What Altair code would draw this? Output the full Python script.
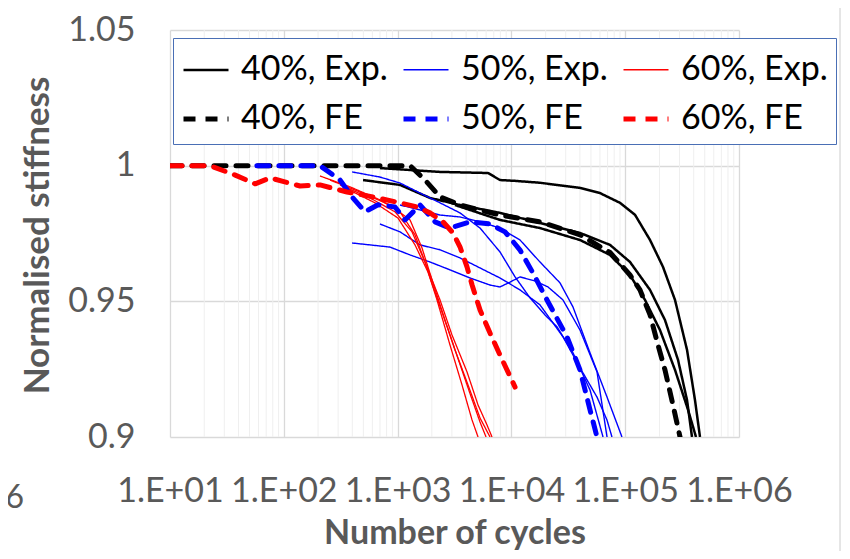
import altair as alt
import pandas as pd

# ---------------- data ----------------
series_names = ["40%, Exp.", "50%, Exp.", "60%, Exp.", "40%, FE", "50%, FE", "60%, FE"]
series_colors = ["#000000", "#0000ff", "#ff0000", "#000000", "#0000ff", "#ff0000"]
series_widths = [2.5, 1.4, 1.3, 5.0, 5.0, 5.0]

# 40% experiments (three specimens)
exp40_a_cycles = [700, 2359, 6230, 7943, 10770, 17830, 40090, 60070, 89950, 121900, 165300, 214800, 274000, 349400, 410500, 454200]
exp40_a_stiff = [0.9991, 0.9977, 0.9973, 0.9947, 0.9944, 0.9937, 0.9918, 0.9899, 0.9863, 0.9819, 0.9726, 0.9627, 0.9505, 0.9321, 0.9136, 0.9]
exp40_b_cycles = [497, 1050, 1926, 3533, 7943, 17830, 40090, 73540, 110200, 165300, 223700, 291200, 349400, 386300]
exp40_b_stiff = [0.9947, 0.9929, 0.9881, 0.9855, 0.9826, 0.9789, 0.9752, 0.9708, 0.9645, 0.9542, 0.9431, 0.9284, 0.9136, 0.9]
exp40_c_cycles = [3194, 7943, 17830, 40090, 73540, 110200, 149300, 202200, 274000, 356700, 418900]
exp40_c_stiff = [0.9855, 0.9800, 0.9770, 0.9726, 0.9671, 0.9597, 0.9505, 0.9394, 0.9247, 0.9100, 0.9]

# 50% experiments
exp50_a_cycles = [398, 700, 1050, 1574, 2359, 3533, 5302, 7943, 10770, 14570, 19720, 25170, 34790, 49090, 63840]
exp50_a_stiff = [0.9977, 0.9958, 0.9936, 0.9899, 0.9863, 0.9826, 0.9770, 0.9682, 0.9590, 0.9513, 0.9450, 0.9406, 0.9310, 0.9173, 0.9]
exp50_b_cycles = [398, 572, 857, 1286, 1926, 2887, 4329, 6488, 7943, 9730, 11910, 16110, 20970, 28410, 40090, 56520, 69240]
exp50_b_stiff = [0.9715, 0.9708, 0.9700, 0.9671, 0.9645, 0.9616, 0.9586, 0.9560, 0.9553, 0.9571, 0.9590, 0.9575, 0.9553, 0.9505, 0.9394, 0.9240, 0.9]
exp50_c_cycles = [1050, 1574, 2359, 3533, 5302, 7943, 11910, 17830, 26740, 34790, 49090, 69240, 93690]
exp50_c_stiff = [0.9855, 0.9837, 0.9818, 0.9811, 0.9793, 0.9770, 0.9726, 0.9645, 0.9568, 0.9479, 0.9310, 0.9147, 0.9]
exp50_d_cycles = [700, 1050, 1574, 2359, 3533, 5302, 7943, 11910, 17830, 28410, 40090, 56520, 69240, 76530]
exp50_d_stiff = [0.9785, 0.9756, 0.9708, 0.9690, 0.9660, 0.9623, 0.9586, 0.9542, 0.9487, 0.9369, 0.9255, 0.9147, 0.9062, 0.9]

# 60% experiments
exp60_a_cycles = [208, 382, 700, 1050, 1422, 1741, 2220, 2887, 3681, 4508, 5091]
exp60_a_stiff = [0.9962, 0.9922, 0.9874, 0.9830, 0.9745, 0.9645, 0.9505, 0.9339, 0.9192, 0.9063, 0.9]
exp60_b_cycles = [255, 467, 857, 1286, 1638, 2046, 2610, 3326, 4329, 5302, 5986]
exp60_b_stiff = [0.9947, 0.9903, 0.9855, 0.9800, 0.9697, 0.9568, 0.9431, 0.9300, 0.9160, 0.9055, 0.9]
exp60_c_cycles = [312, 572, 948, 1339, 1741, 2359, 3007, 4073, 5091, 6110, 6757]
exp60_c_stiff = [0.9929, 0.9881, 0.9830, 0.9756, 0.9645, 0.9505, 0.9376, 0.9240, 0.9118, 0.9044, 0.9]
exp60_d_cycles = [345, 633, 1008, 1422, 1849, 2506, 3194, 4157, 5302, 6488]
exp60_d_stiff = [0.9918, 0.9863, 0.9807, 0.9708, 0.9608, 0.9450, 0.9321, 0.9192, 0.9070, 0.9]

# FE predictions
fe40_cycles = [10, 1290, 1741, 2359, 3533, 7943, 17830, 40090, 73540, 110200, 134900, 165300, 194200, 223700, 263000, 303300]
fe40_stiff = [1.0, 1.0, 0.9947, 0.9885, 0.9855, 0.9818, 0.9793, 0.9745, 0.9680, 0.9597, 0.9542, 0.9450, 0.9339, 0.9247, 0.9118, 0.9]
fe50_cycles = [58, 208, 312, 398, 517, 673, 948, 1161, 1574, 2132, 2887, 4329, 6488, 8790, 11910, 15490, 20550, 30810, 40090, 49090, 56520]
fe50_stiff = [1.0, 1.0, 0.9947, 0.9885, 0.9830, 0.9856, 0.9848, 0.9800, 0.9855, 0.9793, 0.9770, 0.9793, 0.9785, 0.9756, 0.9689, 0.9604, 0.9505, 0.9369, 0.9247, 0.9100, 0.9]
fe60_cycles = [10, 22.5, 37, 56, 76, 102, 139, 208, 359, 608, 1050, 1481, 1926, 2506, 3069, 3533, 4073, 4508, 5302, 6488, 7943, 10770]
fe60_stiff = [1.0, 1.0, 0.9966, 0.9933, 0.9955, 0.9940, 0.9925, 0.9929, 0.9903, 0.9885, 0.9863, 0.9848, 0.9826, 0.9793, 0.9752, 0.9701, 0.9627, 0.9561, 0.9468, 0.9383, 0.9302, 0.9184]

x_major_ticks = [10, 100, 1000, 10000, 100000, 1000000]
x_minor_ticks = [m * 10 ** e for e in range(1, 6) for m in range(2, 10)]
y_ticks = [0.9, 0.95, 1.0, 1.05]

# ---------------- table ----------------
lines = [
    ("40%, Exp.", "e40a", exp40_a_cycles, exp40_a_stiff),
    ("40%, Exp.", "e40b", exp40_b_cycles, exp40_b_stiff),
    ("40%, Exp.", "e40c", exp40_c_cycles, exp40_c_stiff),
    ("50%, Exp.", "e50a", exp50_a_cycles, exp50_a_stiff),
    ("50%, Exp.", "e50b", exp50_b_cycles, exp50_b_stiff),
    ("50%, Exp.", "e50c", exp50_c_cycles, exp50_c_stiff),
    ("50%, Exp.", "e50d", exp50_d_cycles, exp50_d_stiff),
    ("60%, Exp.", "e60a", exp60_a_cycles, exp60_a_stiff),
    ("60%, Exp.", "e60b", exp60_b_cycles, exp60_b_stiff),
    ("60%, Exp.", "e60c", exp60_c_cycles, exp60_c_stiff),
    ("60%, Exp.", "e60d", exp60_d_cycles, exp60_d_stiff),
    ("40%, FE", "f40", fe40_cycles, fe40_stiff),
    ("50%, FE", "f50", fe50_cycles, fe50_stiff),
    ("60%, FE", "f60", fe60_cycles, fe60_stiff),
]
rows = []
for series, line_id, cyc, stf in lines:
    for i, (c, s) in enumerate(zip(cyc, stf)):
        rows.append({"series": series, "line": line_id, "idx": i,
                     "cycles": c, "stiffness": s,
                     "kind": "FE" if "FE" in series else "Exp"})
df = pd.DataFrame(rows)

# ---------------- styling ----------------
FONT = "Lato"
GREY = "#595959"

x_scale = alt.Scale(type="log", domain=[10, 1000000], nice=False)
y_scale = alt.Scale(domain=[0.9, 1.05], nice=False, zero=False)

x_axis = alt.Axis(values=x_major_ticks, labelExpr="'1.E+0' + round(log(datum.value) / LN10)",
                  grid=True, gridColor="#d9d9d9", gridWidth=1.3, domain=False, ticks=False,
                  labelFont=FONT, labelFontSize=34, labelColor=GREY, labelPadding=37,
                  labelFlush=False, labelOverlap=False,
                  title="Number of cycles", titleFont=FONT, titleFontSize=34, titleFontWeight="bold",
                  titleColor=GREY, titleY=96, titleBaseline="middle")
y_axis = alt.Axis(values=y_ticks, labelExpr="format(datum.value, '.2~f')",
                  grid=True, gridColor="#d9d9d9", gridWidth=1.3, domain=False, ticks=False,
                  labelFont=FONT, labelFontSize=34, labelColor=GREY, labelPadding=35,
                  title="Normalised stiffness", titleFont=FONT, titleFontSize=35, titleFontWeight="bold",
                  titleColor=GREY, titleX=-133, titleY=205, titleAngle=270,
                  titleAlign="center", titleBaseline="middle")

legend = alt.Legend(title=None, orient="none", legendX=3, legendY=8, direction="horizontal",
                    columns=3, symbolType="stroke", symbolSize=2025,
                    labelFont=FONT, labelFontSize=34, labelColor="black", labelOffset=10,
                    labelLimit=400, columnPadding=5, rowPadding=7, padding=8,
                    strokeColor="#4a6fb5", fillColor="white")

color_enc = alt.Color("series:N", scale=alt.Scale(domain=series_names, range=series_colors), legend=legend)
dash_enc = alt.StrokeDash("series:N",
                          scale=alt.Scale(domain=series_names,
                                          range=[[1, 0], [1, 0], [1, 0], [12, 10], [12, 10], [12, 10]]),
                          legend=legend)
width_enc = alt.StrokeWidth("series:N",
                            scale=alt.Scale(type="ordinal", domain=series_names, range=series_widths),
                            legend=legend)

base = alt.Chart(df).encode(
    x=alt.X("cycles:Q", scale=x_scale, axis=x_axis),
    y=alt.Y("stiffness:Q", scale=y_scale, axis=y_axis),
    color=color_enc,
    strokeDash=dash_enc,
    strokeWidth=width_enc,
    detail="line:N",
    order="idx:Q",
)

exp_layer = base.transform_filter(alt.datum.kind == "Exp").mark_line(clip=True, strokeJoin="round")
fe_layer = base.transform_filter(alt.datum.kind == "FE").mark_line(clip=True, strokeCap="round",
                                                                   strokeJoin="round")

minor_grid = alt.Chart(pd.DataFrame({"cycles": x_minor_ticks})).mark_rule(
    color="#efefef", strokeWidth=1).encode(x=alt.X("cycles:Q", scale=x_scale, axis=x_axis))

fragment = alt.Chart(pd.DataFrame({"t": ["06"]})).mark_text(
    font=FONT, fontSize=32, color=GREY, align="right", baseline="middle").encode(
    text="t:N", x=alt.value(-146), y=alt.value(468))

edge = alt.Chart(pd.DataFrame({"t": [0]})).mark_rule(color="#cccccc", strokeWidth=1).encode(
    x=alt.value(670), y=alt.value(-22), y2=alt.value(521))

chart = alt.layer(minor_grid, exp_layer, fe_layer, fragment, edge).properties(
    width=569, height=407, autosize="none",
    padding={"left": 162, "top": 22, "right": 103, "bottom": 114},
    background="white",
).configure_view(stroke=None)

chart.save("out.html", embed_options={"renderer": "svg", "actions": False})
